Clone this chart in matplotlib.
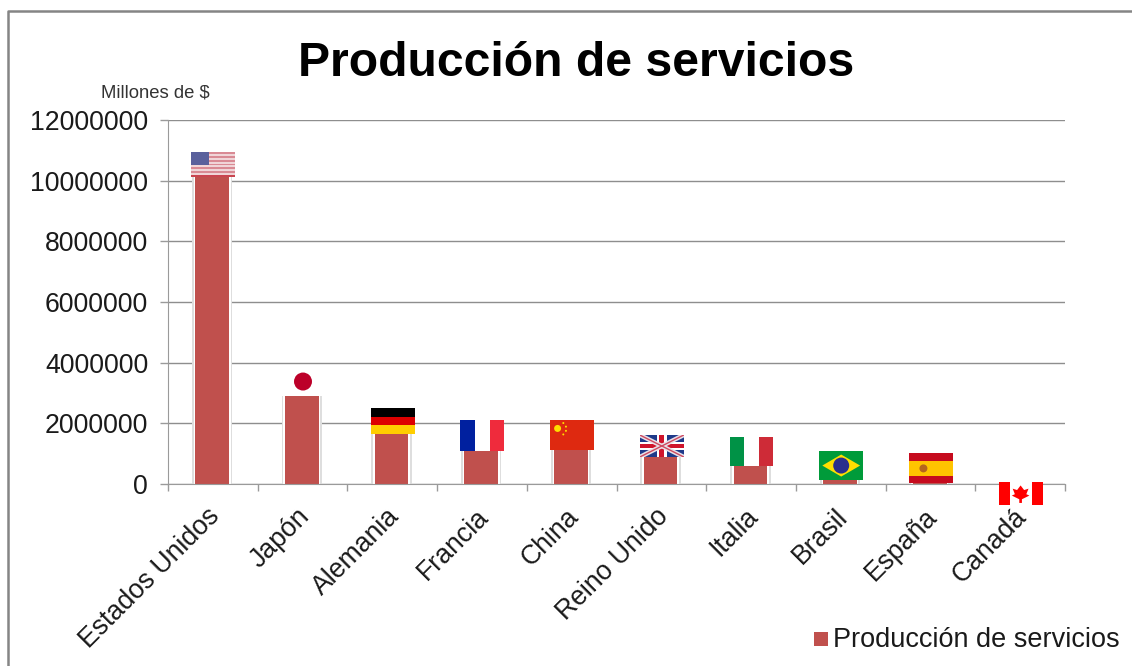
import numpy as np
import matplotlib
matplotlib.use("Agg")
import matplotlib.pyplot as plt
from matplotlib.lines import Line2D
from matplotlib.patches import Ellipse, Polygon, Rectangle

plt.rcParams['font.family'] = ['Liberation Sans', 'DejaVu Sans']

# data (flag edges sit on the bar ends)
paises = ["Estados Unidos", "Japón", "Alemania", "Francia", "China",
          "Reino Unido", "Italia", "Brasil", "España", "Canadá"]
produccion = [10120000, 2900000, 1650000, 1090000, 1120000,
              890000, 590000, 130000, 20000, -700000]
y_ticks = [0, 2000000, 4000000, 6000000, 8000000, 10000000, 12000000]
serie = "Producción de servicios"

BAR = "#c0504d"
TEXT = "#1a1a1a"
W, H = 1132, 666
FLAG_W = 44


# -----------------------------
# Flags, drawn in a 0-1 box
# -----------------------------
def stripes_h(a, colors, sizes=None):
    sizes = sizes or [1 / len(colors)] * len(colors)
    top = 1
    for c, s in zip(colors, sizes):
        a.add_patch(Rectangle((0, top - s), 1, s, color=c, lw=0))
        top -= s


def stripes_v(a, colors):
    for i, c in enumerate(colors):
        a.add_patch(Rectangle((i / len(colors), 0), 1 / len(colors), 1, color=c, lw=0))


def dot(a, x, y, r_px, color, h):
    # round in pixels although the box is not square
    a.add_patch(Ellipse((x, y), 2 * r_px / FLAG_W, 2 * r_px / h, color=color, lw=0))


def flag_us(a, h):
    stripes_h(a, ["#d98a94", "#f0d5d8"] * 6 + ["#c9444f"], [1 / 13] * 13)
    a.add_patch(Rectangle((0, 0.48), 0.4, 0.52, color="#59609c", lw=0))


def flag_jp(a, h):
    stripes_h(a, ["white"])
    dot(a, 0.5, 0.5, 9, "#bc0029", h)


def flag_de(a, h):
    stripes_h(a, ["black", "#dd0000", "#ffce00"])


def flag_fr(a, h):
    stripes_v(a, ["#00209f", "white", "#ef2b3c"])


def flag_cn(a, h):
    stripes_h(a, ["#de2910"])
    dot(a, 0.17, 0.72, 3.5, "#ffde00", h)
    for x, y in [(0.3, 0.9), (0.36, 0.78), (0.36, 0.64), (0.3, 0.52)]:
        dot(a, x, y, 1, "#ffde00", h)


def flag_uk(a, h):
    stripes_h(a, ["#1f3a8a"])
    a.plot([0, 1], [0, 1], color="#e8e0e8", lw=3.2)
    a.plot([0, 1], [1, 0], color="#e8e0e8", lw=3.2)
    a.plot([0, 1], [0, 1], color="#cf4a60", lw=1.0)
    a.plot([0, 1], [1, 0], color="#cf4a60", lw=1.0)
    a.add_patch(Rectangle((0, 0.33), 1, 0.34, color="white", lw=0))
    a.add_patch(Rectangle((0.39, 0), 0.22, 1, color="white", lw=0))
    a.add_patch(Rectangle((0, 0.41), 1, 0.18, color="#cf142b", lw=0))
    a.add_patch(Rectangle((0.44, 0), 0.12, 1, color="#cf142b", lw=0))


def flag_it(a, h):
    stripes_v(a, ["#009246", "white", "#ce2b37"])


def flag_br(a, h):
    stripes_h(a, ["#009b3a"])
    a.add_patch(Polygon([(0.07, 0.5), (0.5, 0.88), (0.93, 0.5), (0.5, 0.12)], color="#fedf00", lw=0))
    dot(a, 0.5, 0.5, 8, "#2a2f8c", h)


def flag_es(a, h):
    stripes_h(a, ["#c60b1e", "#ffc400", "#c60b1e"], [0.25, 0.5, 0.25])
    dot(a, 0.33, 0.5, 4, "#b5651d", h)


def flag_ca(a, h):
    stripes_v(a, ["#ff0000", "white", "white", "#ff0000"])
    a.add_patch(Polygon([(0.5, 0.86), (0.58, 0.66), (0.68, 0.72), (0.63, 0.48), (0.7, 0.42),
                         (0.53, 0.26), (0.53, 0.1), (0.47, 0.1), (0.47, 0.26),
                         (0.3, 0.42), (0.37, 0.48), (0.32, 0.72), (0.42, 0.66)],
                        color="#ff0000", lw=0))


flags = [flag_us, flag_jp, flag_de, flag_fr, flag_cn, flag_uk, flag_it, flag_br, flag_es, flag_ca]
flag_px = [25, 29, 26, 31, 30, 22, 29, 29, 30, 23]

# -----------------------------
# Figure
# -----------------------------
fig = plt.figure(figsize=(W / 100, H / 100), dpi=100, facecolor="white")

# outer frame, open at the bottom and on the right
frame = "#858585"
fig.add_artist(Line2D([8 / W, 8 / W, 1], [0, 1 - 11 / H, 1 - 11 / H], color=frame, lw=1.8))

ax = fig.add_axes([168 / W, 1 - 484 / H, (1065 - 168) / W, (484 - 120) / H])
x = np.arange(len(paises))
ax.set_xlim(-0.5, len(paises) - 0.5)
ax.set_ylim(0, 12000000)

ax.yaxis.grid(True, color="#8e8e8e", lw=1.0)
ax.set_axisbelow(True)
for s in ["top", "right"]:
    ax.spines[s].set_visible(False)
ax.spines["left"].set_color("#9a9a9a")
ax.spines["bottom"].set_color("#9a9a9a")

ax.set_yticks(y_ticks)
ax.set_yticklabels([str(v) for v in y_ticks], fontsize=19.2, color=TEXT)
ax.tick_params(axis="y", length=5.8, width=1, color="#9a9a9a", pad=8.5)

# category ticks sit between the bars
ax.set_xticks(np.arange(len(paises) + 1) - 0.5)
ax.set_xticklabels([])
ax.tick_params(axis="x", length=5, width=1, color="#9a9a9a")
for xi, name in zip(x, paises):
    ax.annotate(name, (xi, 0), xycoords="data", xytext=(-4.5, -14), textcoords="offset points",
                rotation=45, ha="right", va="top", rotation_mode="anchor", fontsize=19.2,
                color=TEXT, annotation_clip=False)

# bars with the soft white/grey halo
pos = [max(v, 0) for v in produccion]
ax.bar(x - 0.008, pos, width=0.45, color="#dedede", lw=0, zorder=2)
ax.bar(x - 0.008, pos, width=0.41, color="white", lw=0, zorder=2.1)
ax.bar(x - 0.008, pos, width=0.375, color=BAR, lw=0, zorder=2.2)

# flags on the bar ends
px_y = 12000000 / (484 - 120)
for xi, v, draw, h in zip(x, produccion, flags, flag_px):
    inner = ax.inset_axes([xi - 0.24, v, 0.49, h * px_y], transform=ax.transData, zorder=3)
    inner.set_xlim(0, 1)
    inner.set_ylim(0, 1)
    inner.axis("off")
    inner.patch.set_visible(False)
    draw(inner, h)

# title, unit and legend
fig.text(576 / W, 1 - 63 / H, "Producción de servicios", fontsize=34.7, fontweight="bold",
         ha="center", va="center", color="black")
fig.text(155 / W, 1 - 93 / H, "Millones de $", fontsize=13.3, ha="center", va="center", color="#333333")
fig.add_artist(Rectangle((814 / W, 1 - 646 / H), 14 / W, 14 / H, color=BAR, lw=0,
                         transform=fig.transFigure))
fig.text(833 / W, 1 - 640 / H, serie, fontsize=19.5, ha="left", va="center", color=TEXT)

fig.savefig("out.png", dpi=100, facecolor="white")
